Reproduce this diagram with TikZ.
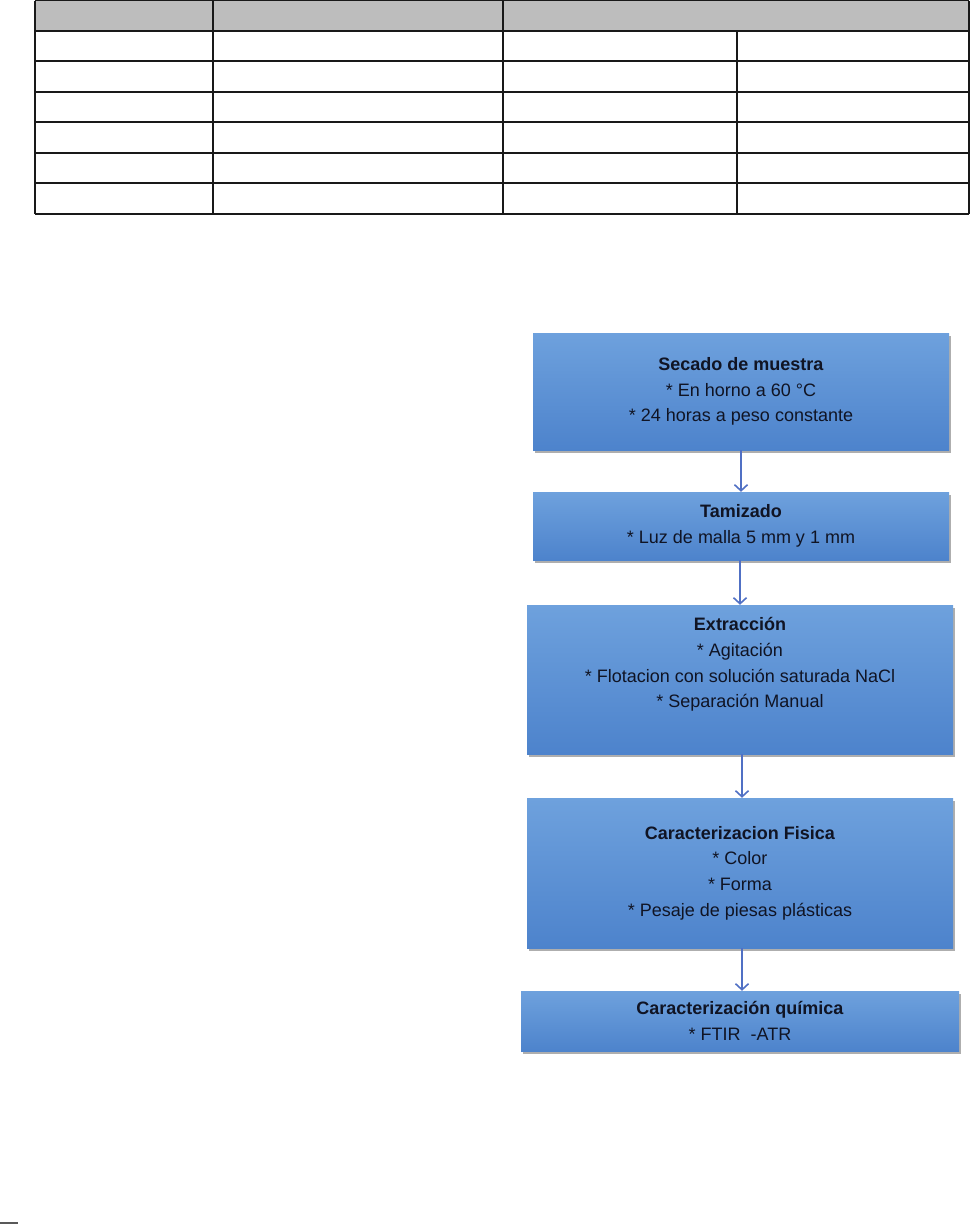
\documentclass[tikz,border=0pt]{standalone}
\usepackage{fontspec}
\setmainfont{Liberation Sans}
\usetikzlibrary{arrows.meta,shadows}
\definecolor{boxtop}{RGB}{110,161,221}
\definecolor{boxbot}{RGB}{77,131,204}
\definecolor{arrowc}{RGB}{80,112,196}
\definecolor{txt}{RGB}{16,20,36}
\definecolor{hdr}{RGB}{189,189,189}
\tikzset{
  flowbox/.style={rectangle, top color=boxtop, bottom color=boxbot, draw=none,
    align=center, text=txt, inner sep=0pt,
    font=\fontsize{18}{25.7}\selectfont,
    drop shadow={shadow xshift=2pt, shadow yshift=-3pt, opacity=0.45, fill=black!70}},
  flowarrow/.style={draw=arrowc, line width=1.6pt, -{Straight Barb[length=6pt,width=13pt,line width=1.6pt]}},
  tline/.style={line width=1.3pt, draw=black!90}
}
\begin{document}
\begin{tikzpicture}[x=1pt,y=-1pt]
\useasboundingbox (0,0) rectangle (972,1225);
% table
\fill[hdr] (35,0.7) rectangle (969,31);
\foreach \yy in {0.7,31,61,92,122,153,183,214} {\draw[tline] (35,\yy) -- (969,\yy);}
\draw[tline] (35,0.7) -- (35,214);
\draw[tline] (213,0.7) -- (213,214);
\draw[tline] (503,0.7) -- (503,214);
\draw[tline] (737,31) -- (737,214);
\draw[tline] (969,0.7) -- (969,214);
% flow boxes
\node[flowbox, minimum width=416pt, minimum height=117pt] (b1) at (741,391.5)
  {\textbf{Secado de muestra}\\ * En horno a 60 °C\\ * 24 horas a peso constante};
\node[flowbox, minimum width=416pt, minimum height=68pt] (b2) at (741,526)
  {\textbf{Tamizado}\\ * Luz de malla 5 mm y 1 mm};
\node[flowbox, minimum width=426pt, minimum height=149pt] (b3) at (740,679.5)
  {\textbf{Extracción}\\ * Agitación\\ * Flotacion con solución saturada NaCl\\ * Separación Manual\\ \strut};
\node[flowbox, minimum width=426pt, minimum height=150pt] (b4) at (740,873)
  {\textbf{Caracterizacion Fisica}\\ * Color\\ * Forma\\ * Pesaje de piesas plásticas};
\node[flowbox, minimum width=438pt, minimum height=60pt] (b5) at (740,1021)
  {\textbf{Caracterización química}\\ * FTIR \ -ATR};
% arrows
\draw[flowarrow] (b1.south -| 741,0) -- (b2.north -| 741,0);
\draw[flowarrow] (b2.south -| 740,0) -- (b3.north -| 740,0);
\draw[flowarrow] (b3.south -| 742,0) -- (b4.north -| 742,0);
\draw[flowarrow] (b4.south -| 742,0) -- (b5.north -| 742,0);
% footnote rule
\coordinate (fa) at (0,1223);
\coordinate (fb) at (18,1223);
\draw[line width=2pt, draw=black!65] (fa) -- (fb);
\end{tikzpicture}
\end{document}
